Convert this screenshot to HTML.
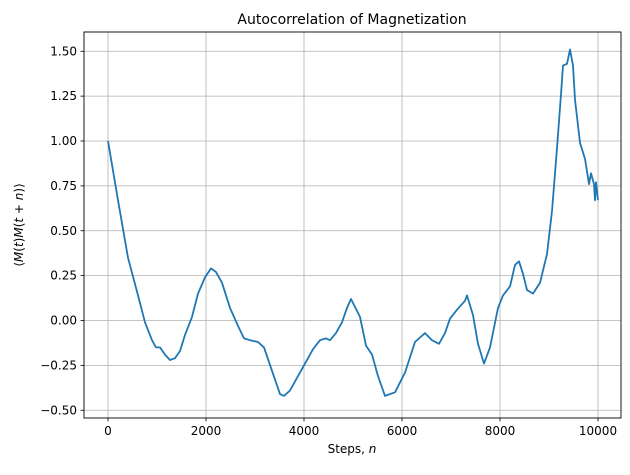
<!DOCTYPE html>
<html><head><meta charset="utf-8"><style>
body{margin:0;background:#fff;font-family:"Liberation Sans","DejaVu Sans",sans-serif}
svg text{font-family:"DejaVu Sans","Liberation Sans",sans-serif;fill:#000}
</style></head><body>
<svg id="chart" width="630" height="470" xmlns="http://www.w3.org/2000/svg">
<text x="352" y="24" font-size="14" text-anchor="middle">Autocorrelation of Magnetization</text>
<g id="grid"></g>
<g id="ticks"></g>
<path id="line" fill="none" stroke="#1f77b4" stroke-width="1.8" stroke-linejoin="round"/>
<rect x="84" y="32" width="537" height="386" fill="none" stroke="#000" stroke-width="0.9"/>
<text x="352" y="453" font-size="12" text-anchor="middle">Steps, <tspan font-style="italic">n</tspan></text>
<text transform="translate(23,225) rotate(-90)" font-size="12" text-anchor="middle">⟨<tspan font-style="italic">M</tspan>(<tspan font-style="italic">t</tspan>)<tspan font-style="italic">M</tspan>(<tspan font-style="italic">t</tspan> + <tspan font-style="italic">n</tspan>)⟩</text>
</svg>
<script>
const steps=[0,204,408,612,755,898,980,1061,1163,1265,1367,1469,1571,1714,1837,1980,2102,2204,2327,2490,2653,2776,2898,3061,3184,3347,3510,3592,3714,3878,4041,4184,4327,4449,4531,4653,4776,4878,4959,5143,5265,5388,5510,5653,5857,6061,6265,6469,6612,6755,6878,6980,7122,7286,7327,7449,7551,7673,7796,7959,8061,8204,8306,8388,8469,8551,8673,8816,8959,9061,9163,9245,9286,9367,9429,9490,9531,9633,9735,9816,9857,9918,9939,9959,10000];
const corr=[1.0,0.67,0.35,0.14,-0.01,-0.11,-0.15,-0.15,-0.19,-0.22,-0.21,-0.17,-0.08,0.02,0.15,0.24,0.29,0.27,0.21,0.07,-0.03,-0.10,-0.11,-0.12,-0.15,-0.28,-0.41,-0.42,-0.39,-0.31,-0.23,-0.16,-0.11,-0.10,-0.11,-0.07,-0.01,0.07,0.12,0.02,-0.14,-0.19,-0.31,-0.42,-0.40,-0.29,-0.12,-0.07,-0.11,-0.13,-0.07,0.01,0.06,0.11,0.14,0.03,-0.13,-0.24,-0.15,0.07,0.14,0.19,0.31,0.33,0.26,0.17,0.15,0.21,0.37,0.61,0.96,1.26,1.42,1.43,1.51,1.42,1.23,0.99,0.90,0.76,0.82,0.76,0.67,0.77,0.67];
const xTicks=[0,2000,4000,6000,8000,10000];
const yTicks=[-0.5,-0.25,0,0.25,0.5,0.75,1.0,1.25,1.5];
const yTickLabels=["−0.50","−0.25","0.00","0.25","0.50","0.75","1.00","1.25","1.50"];
const X=v=>108+v*0.049, Y=v=>320.5-v*179.5;
const NS="http://www.w3.org/2000/svg";
const grid=document.getElementById('grid'), ticks=document.getElementById('ticks');
function mk(tag,attrs,parent){const e=document.createElementNS(NS,tag);for(const k in attrs)e.setAttribute(k,attrs[k]);parent.appendChild(e);return e;}
xTicks.forEach(t=>{const x=X(t);
 const g=mk('line',{x1:x,x2:x,y1:32,y2:418,stroke:'#b0b0b0','stroke-width':0.8},grid);
 
 
 mk('line',{x1:x,x2:x,y1:418,y2:421.5,stroke:'#000','stroke-width':0.8},ticks);
 const l=mk('text',{x:x,y:435,'font-size':12,'text-anchor':'middle'},ticks);l.textContent=t;
 
 });
yTicks.forEach((t,i)=>{const y=Y(t);
 const g=mk('line',{x1:84,x2:621,y1:y,y2:y,stroke:'#b0b0b0','stroke-width':0.8},grid);
 
 
 mk('line',{x1:80.5,x2:84,y1:y,y2:y,stroke:'#000','stroke-width':0.8},ticks);
 const l=mk('text',{x:77,y:y+4,'font-size':12,'text-anchor':'end'},ticks);l.textContent=yTickLabels[i];
 
 });
document.getElementById('line').setAttribute('d',steps.map((s,i)=>(i?'L':'M')+X(s).toFixed(1)+' '+Y(corr[i]).toFixed(1)).join(' '));
</script>
</body></html>
